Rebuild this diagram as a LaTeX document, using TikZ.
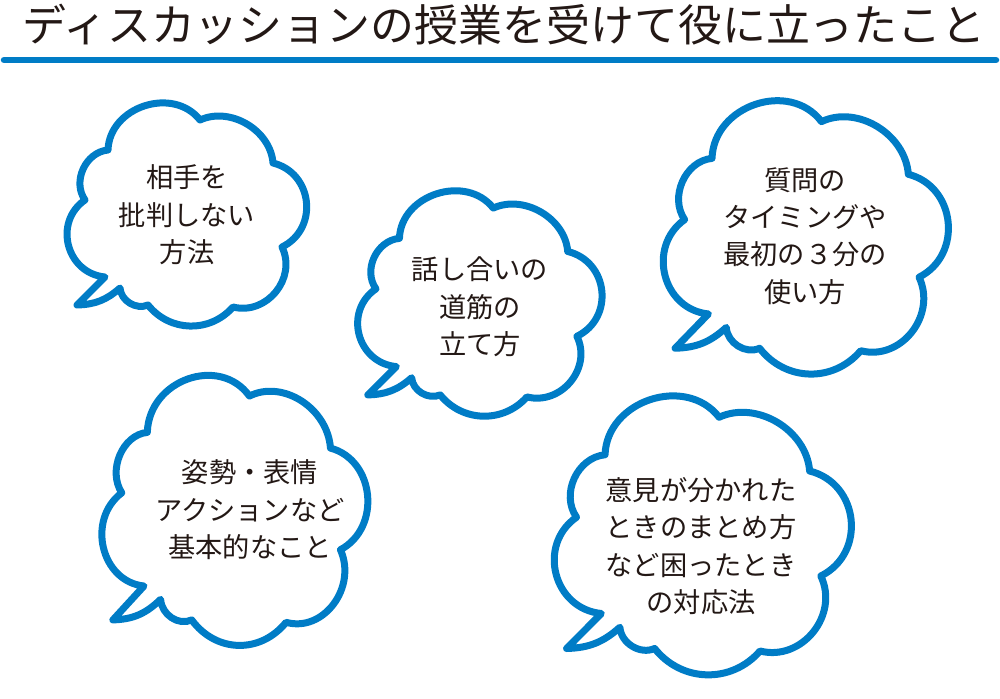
\documentclass[tikz,border=0pt]{standalone}
\usepackage{fontspec}
\setmainfont{Noto Sans CJK JP}
\usepackage{tikz}
\usetikzlibrary{positioning,calc}
\definecolor{cloudblue}{RGB}{0,124,198}
\definecolor{inkdark}{RGB}{35,24,21}

\begin{document}
\begin{tikzpicture}[
  x=0.02cm, y=-0.02cm,
  cloudline/.style={draw=cloudblue, fill=white, line width=0.14cm, line join=round},
  bubbletext/.style={align=center, text=inkdark, inner sep=0pt, font=\fontsize{15.5}{21.3}\selectfont},
  cloud/.pic={
    \draw[cloudline] (-110,90) -- (-82,62)
      to[bend left=70, looseness=1.25] (-102,-15)
      to[bend left=60, looseness=1.05] (-79,-65)
      to[bend left=70, looseness=1.15] (13,-95)
      to[bend left=55] (86,-52)
      to[bend left=70, looseness=1.25] (95,32)
      to[bend left=65, looseness=1.15] (46,92)
      to[bend left=50, looseness=1.05] (-39,90)
      to[bend left=55] (-67,73)
      to[bend left=20] (-110,90) -- cycle;
  }
]
  \useasboundingbox (0,0) rectangle (1000,699);

  \node[text=inkdark, inner sep=0pt, font=\fontsize{25}{30}\selectfont] (title) at (504,25) {ディスカッションの授業を受けて役に立ったこと};
  \coordinate (ruleL) at (4,60);
  \coordinate (ruleR) at (996,60);
  \draw[cloudblue, line width=0.13cm, line cap=round] (ruleL) -- (ruleR);

  \foreach \cx/\cy/\sx/\sy in {187/215/1/1, 480/304/1.02/1.01, 806/238/1.19/1.225, 235/511/1.11/1.21, 703/536/1.24/1.25}
    \pic[xscale=\sx, yscale=\sy] at (\cx,\cy) {cloud};

  \node[bubbletext] (q1) at (187,215) {相手を\\批判しない\\方法};
  \node[bubbletext] (q2) at (480,307) {話し合いの\\道筋の\\立て方};
  \node[bubbletext] (q3) at (805,236) {質問の\\タイミングや\\最初の３分の\\使い方};
  \node[bubbletext] (q4) at (250,510) {姿勢・表情\\アクションなど\\基本的なこと};
  \node[bubbletext] (q5) at (701,546) {意見が分かれた\\ときのまとめ方\\など困ったとき\\の対応法};
\end{tikzpicture}
\end{document}
